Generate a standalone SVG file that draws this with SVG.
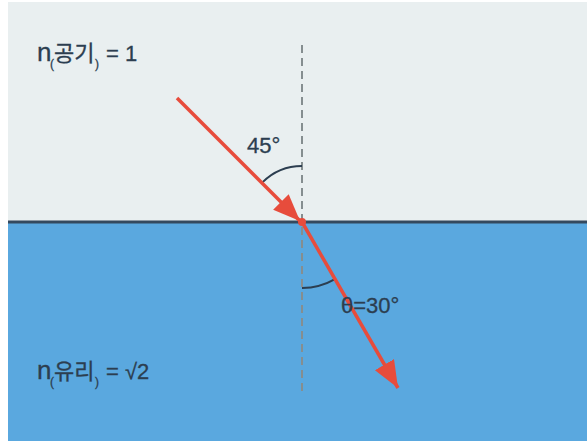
<svg xmlns="http://www.w3.org/2000/svg" width="587" height="441" viewBox="0 0 587 441">
<style>
.lbl{font-family:"Liberation Sans","Noto Sans CJK KR",sans-serif;font-size:22px;fill:#2c3e50;stroke:#2c3e50;stroke-width:0.3}
.ko{font-family:"Noto Sans CJK KR","Liberation Sans",sans-serif;font-size:22px}
.sub{font-size:12px}
.ray{stroke:#e74c3c;stroke-width:3.5;fill:none}
.arc{stroke:#2c3e50;stroke-width:2;fill:none}
.normal{stroke:#858e90;stroke-width:2;stroke-dasharray:8 5;fill:none}
</style>
<defs>
<marker id="ah" markerUnits="userSpaceOnUse" markerWidth="28" markerHeight="24" refX="27" refY="11" orient="auto">
<path d="M0,0 L27,11 L0,22 Z" fill="#e74c3c"/>
</marker>
</defs>
<rect width="587" height="441" fill="#ffffff"/>
<g id="air">
<rect x="8" y="2" width="579" height="220" fill="#e9eff0"/>
<text class="lbl" x="37" y="61"><tspan font-size="26">n</tspan><tspan class="sub" x="50" y="68">(</tspan><tspan class="ko" x="54" y="61">공기</tspan><tspan class="sub" x="95" y="68">)</tspan><tspan x="106" y="61">= 1</tspan></text>
</g>
<g id="glass">
<rect x="8" y="222" width="579" height="219" fill="#5aa8df"/>
<text class="lbl" x="37" y="379"><tspan font-size="26">n</tspan><tspan class="sub" x="50" y="386">(</tspan><tspan class="ko" x="54" y="379">유리</tspan><tspan class="sub" x="95" y="386">)</tspan><tspan x="106" y="379">= √2</tspan></text>
</g>
<g id="interface">
<line x1="8" y1="222" x2="587" y2="222" stroke="#34495e" stroke-width="3"/>
</g>
<g id="connectors">
<line class="normal" x1="302" y1="45" x2="302" y2="395"/>
<path class="arc" d="M302,166 A56,56 0 0 0 262.4,182.4"/>
<path class="arc" d="M302,288 A66,66 0 0 0 335,279.2"/>
<line class="ray" x1="177" y1="98" x2="300" y2="221" marker-end="url(#ah)"/>
<line class="ray" x1="302" y1="222" x2="398" y2="388" marker-end="url(#ah)"/>
<circle cx="302" cy="222" r="4" fill="#e74c3c"/>
</g>
<g id="angle-labels">
<text class="lbl" x="247" y="153">45°</text>
<text class="lbl" x="341" y="313">θ=30°</text>
</g>
</svg>
